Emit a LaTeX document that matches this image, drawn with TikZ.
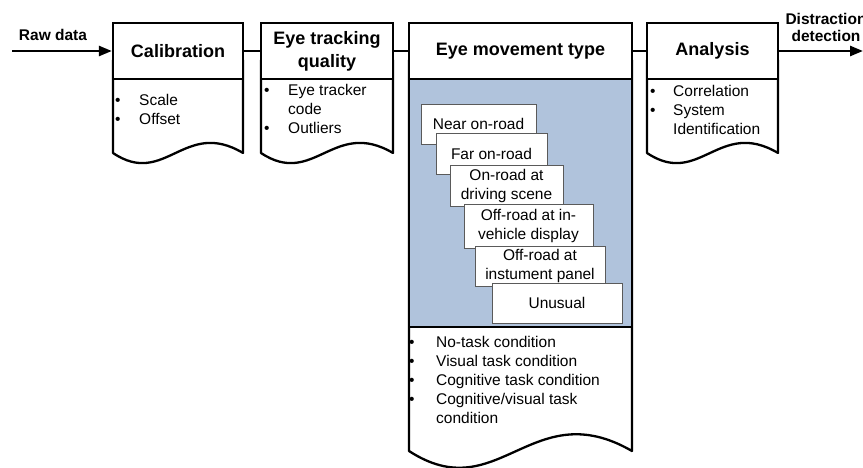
\documentclass[tikz,border=0pt]{standalone}
\usepackage{fontspec}
\setmainfont{Liberation Sans}
\usetikzlibrary{arrows.meta}

\definecolor{panelblue}{RGB}{176,195,220}
\definecolor{typeedge}{RGB}{90,90,90}

% document-shaped body below a stage title: left x, right x, bottom y, wave amplitude
\newcommand{\stagebody}[4]{%
  \draw[body] (#1,60) -- (#1,#3)
    .. controls ({#1+0.4*(#2-#1)},{#3+#4}) and ({#1+0.55*(#2-#1)},{#3-#4}) .. (#2,#3)
    -- (#2,60) -- cycle;}

\begin{document}
\begin{tikzpicture}[x=1pt,y=-1pt,
    stage/.style={draw, line width=2.3pt, fill=white, minimum height=56pt,
      inner sep=2pt, align=center, font=\fontsize{18}{23}\selectfont\bfseries},
    body/.style={draw, line width=2.3pt, fill=white, line join=round},
    link/.style={line width=2.5pt},
    flow/.style={line width=2.5pt, -{Triangle[length=13pt,width=10pt]}},
    flowlabel/.style={align=center, inner sep=0pt, font=\fontsize{15.5}{17}\selectfont\bfseries},
    items/.style={anchor=north west, inner sep=0pt, font=\fontsize{15.5}{19}\selectfont},
    gazebox/.style={draw=typeedge, line width=0.8pt, fill=white, inner sep=1pt,
      align=center, font=\fontsize{15.5}{19}\selectfont}]
  \useasboundingbox (0,0) rectangle (863,468);

  % bodies
  \stagebody{113}{243}{153}{35}
  \stagebody{261}{393}{153}{35}
  \stagebody{409}{632}{451}{58}
  \stagebody{647}{778}{153}{35}
  \fill[panelblue] (410,79) rectangle (631,327);
  \draw[line width=2.3pt] (409,327) -- (632,327);

  % stage titles
  \node[stage, minimum width=130pt] (calib) at (178,51) {Calibration};
  \node[stage, minimum width=132pt] (qual) at (327,51) {Eye tracking\\quality};
  \node[stage, minimum width=223pt] (move) at (520.5,51) {Eye movement type};
  \node[stage, minimum width=131pt] (anal) at (712.5,51) {Analysis};

  \coordinate (rawin) at (12,51);
  \coordinate (detout) at (863,51);
  \draw[flow] (rawin) -- (calib);
  \draw[link] (calib) -- (qual);
  \draw[link] (qual) -- (move);
  \draw[link] (move) -- (anal);
  \draw[flow] (anal) -- (detout);
  \node[flowlabel] (rawlbl) at (53,35) {Raw data};
  \node[flowlabel] (detlbl) at (826,27) {Distraction\\detection};

  % bullet lists
  \node[items] (calibtxt) at (115,92) {\begin{tabular}{@{}p{24pt}@{}l@{}}
    \textbullet & Scale\\
    \textbullet & Offset
  \end{tabular}};
  \node[items] (qualtxt) at (264,82) {\begin{tabular}{@{}p{24pt}@{}l@{}}
    \textbullet & Eye tracker\\
     & code\\
    \textbullet & Outliers
  \end{tabular}};
  \node[items] (analtxt) at (650,83) {\begin{tabular}{@{}p{23pt}@{}l@{}}
    \textbullet & Correlation\\
    \textbullet & System\\
     & Identification
  \end{tabular}};
  \node[items] (movetxt) at (409,334) {\begin{tabular}{@{}p{27pt}@{}l@{}}
    \textbullet & No-task condition\\
    \textbullet & Visual task condition\\
    \textbullet & Cognitive task condition\\
    \textbullet & Cognitive/visual task\\
     & condition
  \end{tabular}};

  % eye movement types
  \node[gazebox, minimum width=115pt, minimum height=40pt] (near) at (478.5,124) {Near on-road};
  \node[gazebox, minimum width=111pt, minimum height=41pt] (far) at (491.5,153.5) {Far on-road};
  \node[gazebox, minimum width=113pt, minimum height=41pt] (onroad) at (506.5,185.5) {On-road at\\driving scene};
  \node[gazebox, minimum width=129pt, minimum height=44pt] (invehicle) at (528.5,226) {Off-road at in-\\vehicle display};
  \node[gazebox, minimum width=130pt, minimum height=40pt] (panel) at (540,266) {Off-road at\\instument panel};
  \node[gazebox, minimum width=130pt, minimum height=40pt] (unusual) at (557,303) {Unusual};
\end{tikzpicture}
\end{document}
